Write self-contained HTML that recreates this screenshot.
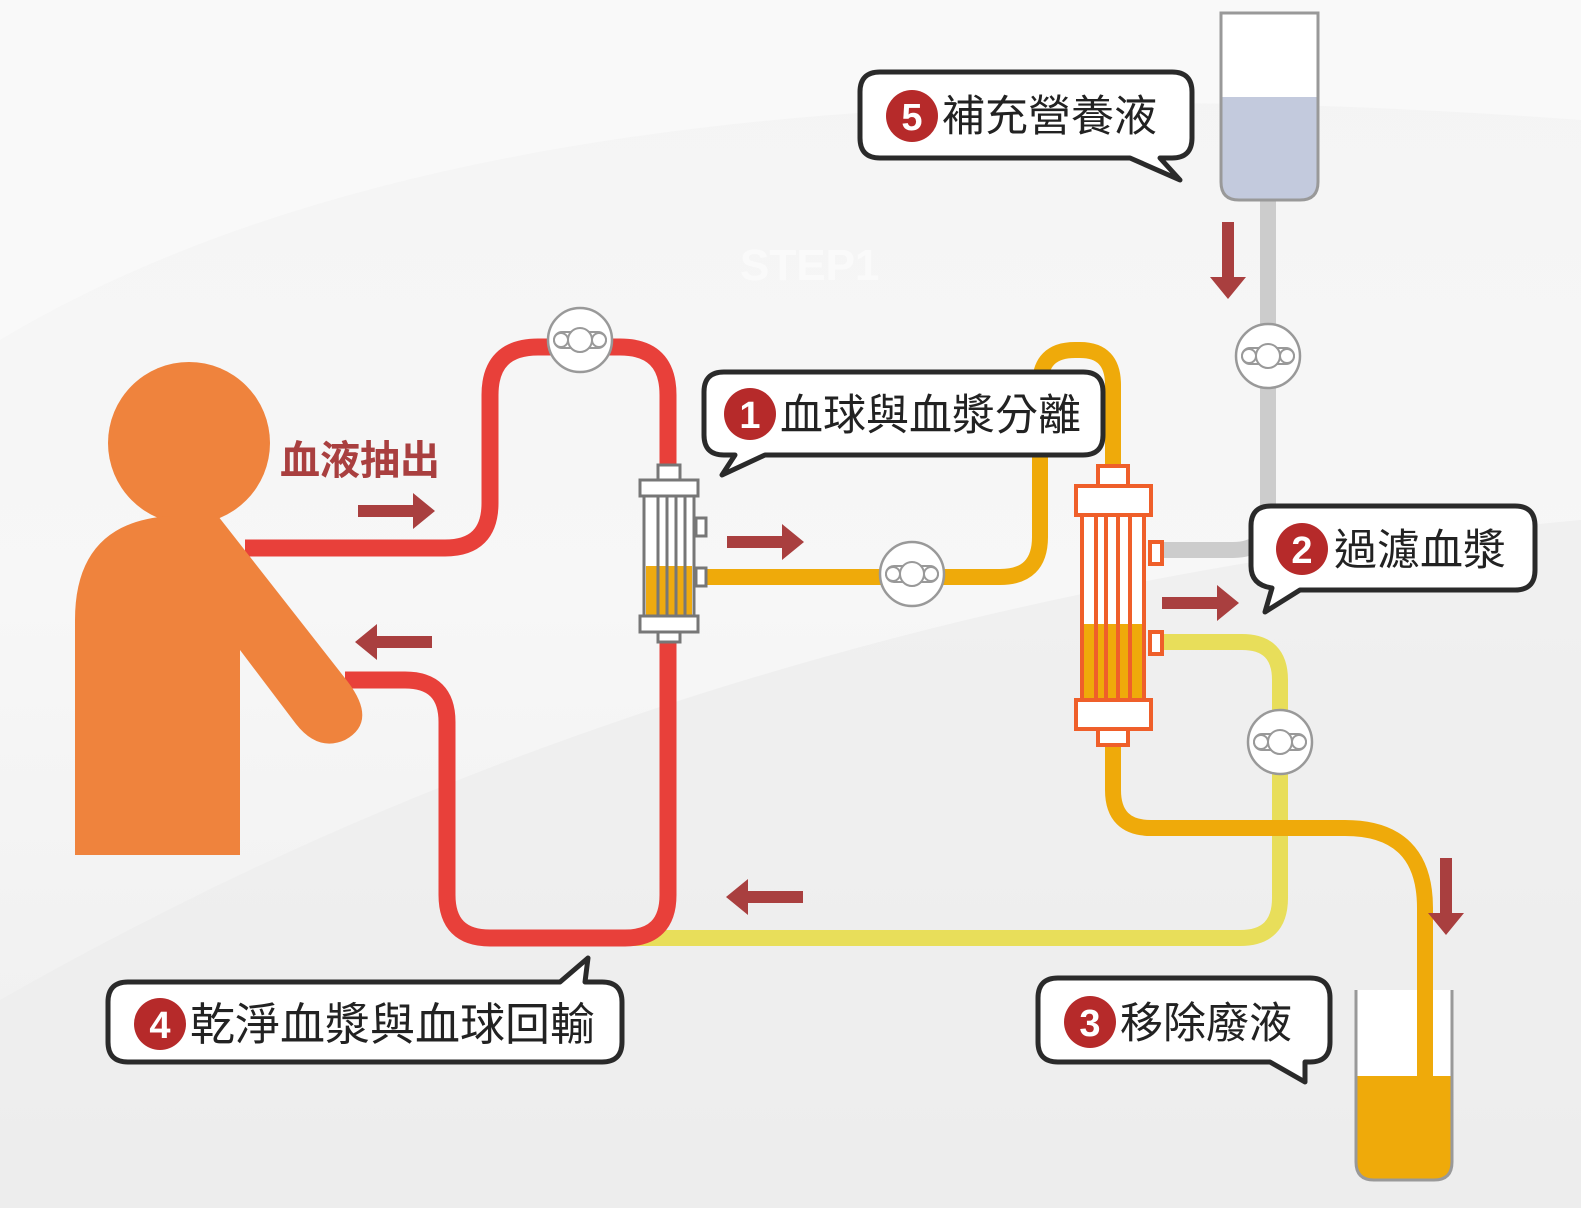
<!DOCTYPE html>
<html><head><meta charset="utf-8"><style>
html,body{margin:0;padding:0;background:#f2f2f2}
svg{display:block}
text{font-family:"Liberation Sans","Noto Sans CJK TC",sans-serif}
</style></head><body>
<svg width="1581" height="1208" viewBox="0 0 1581 1208" xmlns="http://www.w3.org/2000/svg">
<defs>
<linearGradient id="bg" x1="0" y1="0" x2="0" y2="1">
<stop offset="0" stop-color="#f4f4f4"/><stop offset="0.5" stop-color="#f7f7f7"/><stop offset="1" stop-color="#eeeeee"/>
</linearGradient>
<g id="valve">
<circle r="32" fill="#fff" stroke="#999" stroke-width="2.5"/>
<rect x="-26" y="-8" width="52" height="16" rx="8" fill="#fff" stroke="#999" stroke-width="2"/>
<circle r="12" fill="#fff" stroke="#999" stroke-width="2"/>
<circle cx="-19" r="7" fill="#fff" stroke="#999" stroke-width="2"/>
<circle cx="19" r="7" fill="#fff" stroke="#999" stroke-width="2"/>
</g>
</defs>
<rect width="1581" height="1208" fill="url(#bg)"/>
<path d="M0,340 Q500,40 1581,120 L1581,0 L0,0Z" fill="#fafafa" opacity="0.8"/>
<path d="M0,1000 Q700,600 1581,520 L1581,1208 L0,1208Z" fill="#ececec" opacity="0.7"/>
<text x="740" y="280" font-size="44" font-weight="bold" fill="#fff" opacity="0.5">STEP1</text>

<path d="M1268,200 L1268,515 Q1268,550 1233,550 L1150,550" fill="none" stroke="#cccccc" stroke-width="16"/>
<path d="M620,938 L1240,938 Q1280,938 1280,898 L1280,680 Q1280,642 1242,642 L1150,642" fill="none" stroke="#e8de5a" stroke-width="16"/>
<path d="M700,577 L1000,577 Q1040,577 1040,537 L1040,385 Q1040,350 1075,350 L1080,350 Q1113,350 1113,385 L1113,470" fill="none" stroke="#efaa0a" stroke-width="16"/>
<path d="M1113,745 L1113,790 Q1113,828 1151,828 L1345,828 Q1425,828 1425,908 L1425,1140" fill="none" stroke="#efaa0a" stroke-width="16"/>
<path d="M245,548 L445,548 Q490,548 490,503 L490,395 Q490,347 538,347 L620,347 Q668,347 668,395 L668,470" fill="none" stroke="#e8403a" stroke-width="17"/>
<path d="M668,635 L668,895 Q668,938 625,938 L490,938 Q447,938 447,895 L447,722 Q447,680 405,680 L345,680" fill="none" stroke="#e8403a" stroke-width="17"/>

<circle cx="189" cy="443" r="81" fill="#ef833d"/>
<path d="M75,855 L75,620 Q75,522 170,516 L218,516 L348,682 Q378,722 345,740 Q318,752 296,724 L240,650 L240,855 Z" fill="#ef833d"/>

<path d="M1221,13 L1318,13 L1318,182 Q1318,200 1300,200 L1239,200 Q1221,200 1221,182 Z" fill="#fff"/>
<path d="M1222,97 L1317,97 L1317,182 Q1317,199 1300,199 L1239,199 Q1222,199 1222,182 Z" fill="#c3cadd"/>
<path d="M1221,13 L1318,13 L1318,182 Q1318,200 1300,200 L1239,200 Q1221,200 1221,182 Z" fill="none" stroke="#999" stroke-width="3"/>
<path d="M1356,990 L1356,1162 Q1356,1180 1374,1180 L1434,1180 Q1452,1180 1452,1162 L1452,990" fill="#fff"/>
<path d="M1357,1076 L1451,1076 L1451,1162 Q1451,1179 1434,1179 L1374,1179 Q1357,1179 1357,1162 Z" fill="#efaa0a"/>
<path d="M1425,990 L1425,1076" stroke="#efaa0a" stroke-width="16"/>
<path d="M1356,990 L1356,1162 Q1356,1180 1374,1180 L1434,1180 Q1452,1180 1452,1162 L1452,990" fill="none" stroke="#999" stroke-width="3"/>

<g stroke="#777" stroke-width="3" fill="#fff">
<rect x="658" y="465" width="22" height="16"/>
<rect x="696" y="518" width="10" height="18"/>
<rect x="696" y="568" width="10" height="18"/>
<rect x="644" y="490" width="50" height="128"/>
<rect x="646" y="566" width="46" height="50" fill="#eeaa10" stroke="none"/>
<line x1="658" y1="490" x2="658" y2="618"/><line x1="667" y1="490" x2="667" y2="618"/><line x1="676" y1="490" x2="676" y2="618"/><line x1="685" y1="490" x2="685" y2="618"/>
<rect x="640" y="480" width="58" height="16"/>
<rect x="640" y="616" width="58" height="16"/>
<rect x="658" y="632" width="22" height="10"/>
</g>
<g stroke="#ef5f2a" stroke-width="4" fill="#fff">
<rect x="1098" y="466" width="30" height="20"/>
<rect x="1150" y="542" width="12" height="22"/>
<rect x="1150" y="632" width="12" height="22"/>
<rect x="1082" y="515" width="62" height="185"/>
<rect x="1084" y="624" width="58" height="74" fill="#efaa0a" stroke="none"/>
<line x1="1096" y1="515" x2="1096" y2="700"/><line x1="1106" y1="515" x2="1106" y2="700"/><line x1="1118" y1="515" x2="1118" y2="700"/><line x1="1130" y1="515" x2="1130" y2="700"/>
<rect x="1076" y="486" width="75" height="29"/>
<rect x="1076" y="700" width="75" height="29"/>
<rect x="1098" y="729" width="30" height="16"/>
</g>

<use href="#valve" x="580" y="340"/>
<use href="#valve" x="912" y="574"/>
<use href="#valve" x="1268" y="356"/>
<use href="#valve" x="1280" y="742"/>

<g fill="#a93f3f">
<path d="M358,505 h55 v-12 l22,18 l-22,18 v-12 h-55z"/>
<path d="M432,636 h-55 v-12 l-22,18 l22,18 v-12 h55z"/>
<path d="M727,536 h55 v-12 l22,18 l-22,18 v-12 h-55z"/>
<path d="M1162,597 h55 v-12 l22,18 l-22,18 v-12 h-55z"/>
<path d="M803,891 h-55 v-12 l-22,18 l22,18 v-12 h55z"/>
<path d="M1222,222 v55 h-12 l18,22 l18,-22 h-12 v-55z"/>
<path d="M1440,858 v55 h-12 l18,22 l18,-22 h-12 v-55z"/>
</g>
<text x="280" y="474" font-size="40" font-weight="bold" fill="#a93f3f">血液抽出</text>

<g fill="#fff" stroke="#2a2a2a" stroke-width="5" stroke-linejoin="round">
<path d="M880,72 H1172 Q1192,72 1192,92 V138 Q1192,158 1172,158 H1160 L1180,180 L1130,158 H880 Q860,158 860,138 V92 Q860,72 880,72Z"/>
<path d="M724,372 H1083 Q1103,372 1103,392 V435 Q1103,455 1083,455 H765 L722,475 L735,455 H724 Q704,455 704,435 V392 Q704,372 724,372Z"/>
<path d="M1271,506 H1515 Q1535,506 1535,526 V570 Q1535,590 1515,590 H1300 L1265,612 L1272,588 Q1251,585 1251,566 V526 Q1251,506 1271,506Z"/>
<path d="M128,982 H560 L588,958 L585,982 H602 Q622,982 622,1002 V1042 Q622,1062 602,1062 H128 Q108,1062 108,1042 V1002 Q108,982 128,982Z"/>
<path d="M1058,978 H1310 Q1330,978 1330,998 V1042 Q1330,1062 1310,1062 H1305 L1305,1082 L1270,1062 H1058 Q1038,1062 1038,1042 V998 Q1038,978 1058,978Z"/>
</g>
<g fill="#b62a2a">
<circle cx="912" cy="116" r="26"/><circle cx="750" cy="414" r="26"/><circle cx="1302" cy="549" r="26"/><circle cx="160" cy="1024" r="26"/><circle cx="1090" cy="1022" r="26"/>
</g>
<g fill="#fff" font-size="38" font-weight="bold" text-anchor="middle">
<text x="912" y="130">5</text><text x="750" y="428">1</text><text x="1302" y="563">2</text><text x="160" y="1038">4</text><text x="1090" y="1036">3</text>
</g>
<g fill="#222" font-size="43">
<text x="942" y="131">補充營養液</text>
<text x="780" y="430">血球與血漿分離</text>
<text x="1334" y="565">過濾血漿</text>
<text x="190" y="1040" font-size="45">乾淨血漿與血球回輸</text>
<text x="1120" y="1038">移除廢液</text>
</g>
</svg>
</body></html>
